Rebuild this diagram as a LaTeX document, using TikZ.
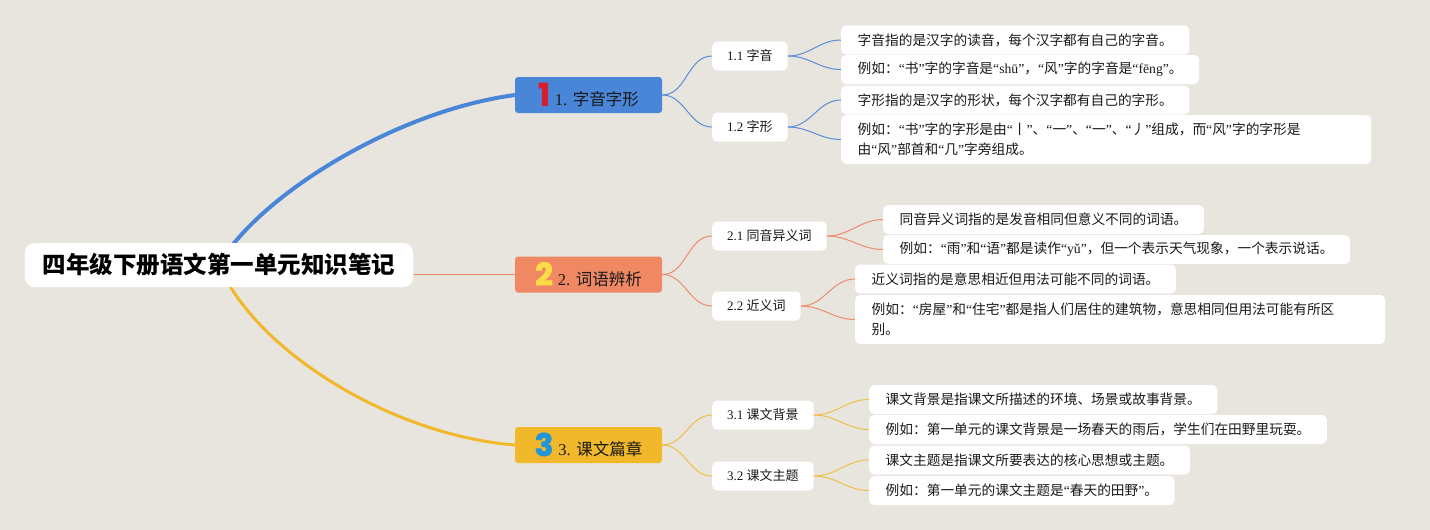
\documentclass[tikz,border=0pt]{standalone}
\usepackage{fontspec}
\setmainfont{Liberation Serif}
\newfontfamily\cjk{Noto Sans CJK SC}
\newfontfamily\badgefont{Poppins}[BoldFeatures={FakeBold=2.5}]
\usetikzlibrary{positioning, backgrounds}

% Chinese characters in the CJK font, the rest in the main font
\XeTeXinterchartokenstate=1
\newXeTeXintercharclass\cjkclass
\makeatletter
\count@="3000
\loop
  \XeTeXcharclass\count@=\cjkclass
  \advance\count@ by 1
\ifnum\count@<"A000 \repeat
\count@="FF00
\loop
  \XeTeXcharclass\count@=\cjkclass
  \advance\count@ by 1
\ifnum\count@<"FFF0 \repeat
\makeatother
\XeTeXcharclass"201C=0
\XeTeXcharclass"201D=0
\XeTeXinterchartoks 0 \cjkclass={\cjk}
\XeTeXinterchartoks 4095 \cjkclass={\cjk}
\XeTeXinterchartoks \cjkclass 0={\rmfamily}
\XeTeXinterchartoks \cjkclass 4095={\rmfamily}

\definecolor{cBg}{RGB}{232,229,222}
\definecolor{cBlue}{RGB}{74,134,216}
\definecolor{cOrange}{RGB}{240,136,100}
\definecolor{cYellow}{RGB}{240,184,42}
\definecolor{cBlueLine}{RGB}{90,140,215}
\definecolor{cOrangeLine}{RGB}{238,140,110}
\definecolor{cYellowLine}{RGB}{240,190,70}
\definecolor{cRed}{RGB}{215,30,45}
\definecolor{cGold}{RGB}{250,220,70}
\definecolor{cSky}{RGB}{35,150,215}
\definecolor{cText}{RGB}{25,25,25}

\newcommand{\numbadge}{\badgefont\bfseries\fontsize{31}{31}\selectfont}

\tikzset{
  basebox/.style={rectangle, fill=white, text=cText, inner ysep=0pt},
  rootnode/.style={basebox, rounded corners=10pt, minimum height=44pt,
                   inner xsep=18pt, font=\bfseries\fontsize{23.5}{28}\selectfont,
                   text=black},
  branchnode/.style={basebox, rounded corners=3pt, minimum width=147pt,
                     minimum height=36pt, font=\fontsize{16.5}{20}\selectfont},
  subnode/.style={basebox, rounded corners=5pt, minimum height=29pt,
                  inner xsep=15pt, anchor=west, font=\fontsize{13}{16}\selectfont},
  leafnode/.style={basebox, rounded corners=5pt, minimum height=29pt,
                   inner xsep=16.5pt, anchor=west, align=left,
                   font=\fontsize{13.7}{20}\selectfont},
  longleaf/.style={leafnode, text width=497pt, minimum height=49pt},
  bluelink/.style={draw=cBlueLine, line width=1pt},
  orangelink/.style={draw=cOrangeLine, line width=1pt},
  yellowlink/.style={draw=cYellowLine, line width=1pt}
}

\begin{document}
\begin{tikzpicture}[x=1pt, y=-1pt]
  \useasboundingbox (0,0) rectangle (1430,530);

  % Root and main branches
  \node[rootnode] (root) at (219,265) {四年级下册语文第一单元知识笔记};
  \node[branchnode, fill=cBlue] (b1) at (588.5,95)
    {{\color{cRed}\numbadge 1}\hspace{5pt}1. 字音字形};
  \node[branchnode, fill=cOrange] (b2) at (588.5,274.5)
    {{\color{cGold}\numbadge 2}\hspace{5pt}2. 词语辨析};
  \node[branchnode, fill=cYellow] (b3) at (588.5,445)
    {{\color{cSky}\numbadge 3}\hspace{5pt}3. 课文篇章};

  % Sub topics
  \node[subnode] (s11) at (712,56) {1.1 字音};
  \node[subnode] (s12) at (712,127) {1.2 字形};
  \node[subnode] (s21) at (712,236) {2.1 同音异义词};
  \node[subnode] (s22) at (712,306) {2.2 近义词};
  \node[subnode] (s31) at (712,415) {3.1 课文背景};
  \node[subnode] (s32) at (712,476) {3.2 课文主题};

  % Notes
  \node[leafnode] (l111) at (841,40) {字音指的是汉字的读音，每个汉字都有自己的字音。};
  \node[leafnode] (l112) at (841,69.5) {例如：“书”字的字音是“shū”，“风”字的字音是“fēng”。};
  \node[leafnode] (l121) at (841,100) {字形指的是汉字的形状，每个汉字都有自己的字形。};
  \node[longleaf] (l122) at (841,139.5)
    {例如：“书”字的字形是由“丨”、“一”、“一”、“丿”组成，而“风”字的字形是\\由“风”部首和“几”字旁组成。};
  \node[leafnode] (l211) at (883,219.5) {同音异义词指的是发音相同但意义不同的词语。};
  \node[leafnode] (l212) at (883,249.5) {例如：“雨”和“语”都是读作“yǔ”，但一个表示天气现象，一个表示说话。};
  \node[leafnode] (l221) at (855,279) {近义词指的是意思相近但用法可能不同的词语。};
  \node[longleaf] (l222) at (855,319.5)
    {例如：“房屋”和“住宅”都是指人们居住的建筑物，意思相同但用法可能有所区\\别。};
  \node[leafnode] (l311) at (869,399.5) {课文背景是指课文所描述的环境、场景或故事背景。};
  \node[leafnode] (l312) at (869,429.5) {例如：第一单元的课文背景是一场春天的雨后，学生们在田野里玩耍。};
  \node[leafnode] (l321) at (869,460) {课文主题是指课文所要表达的核心思想或主题。};
  \node[leafnode] (l322) at (869,490.5) {例如：第一单元的课文主题是“春天的田野”。};

  \begin{scope}[on background layer]
    \fill[cBg] (0,0) rectangle (1430,530);

    % Main links
    \draw[cBlue, line width=4pt] (root.center)
      .. controls (255,200) and (390,112) .. (b1.west);
    \draw[cOrange, line width=1.5pt] (root.center |- b2.west) -- (b2.west);
    \draw[cYellow, line width=3pt] (root.center)
      .. controls (255,350) and (390,435) .. (b3.west);

    % Branch to sub topic
    \foreach \s in {s11, s12}
      \draw[bluelink] (b1.east) to[out=0, in=180] (\s.west);
    \foreach \s in {s21, s22}
      \draw[orangelink] (b2.east) to[out=0, in=180] (\s.west);
    \foreach \s in {s31, s32}
      \draw[yellowlink] (b3.east) to[out=0, in=180] (\s.west);

    % Sub topic to notes
    \foreach \s/\l in {s11/l111, s11/l112, s12/l121, s12/l122}
      \draw[bluelink] (\s.east) to[out=0, in=180] (\l.west);
    \foreach \s/\l in {s21/l211, s21/l212, s22/l221, s22/l222}
      \draw[orangelink] (\s.east) to[out=0, in=180] (\l.west);
    \foreach \s/\l in {s31/l311, s31/l312, s32/l321, s32/l322}
      \draw[yellowlink] (\s.east) to[out=0, in=180] (\l.west);
  \end{scope}
\end{tikzpicture}
\end{document}
